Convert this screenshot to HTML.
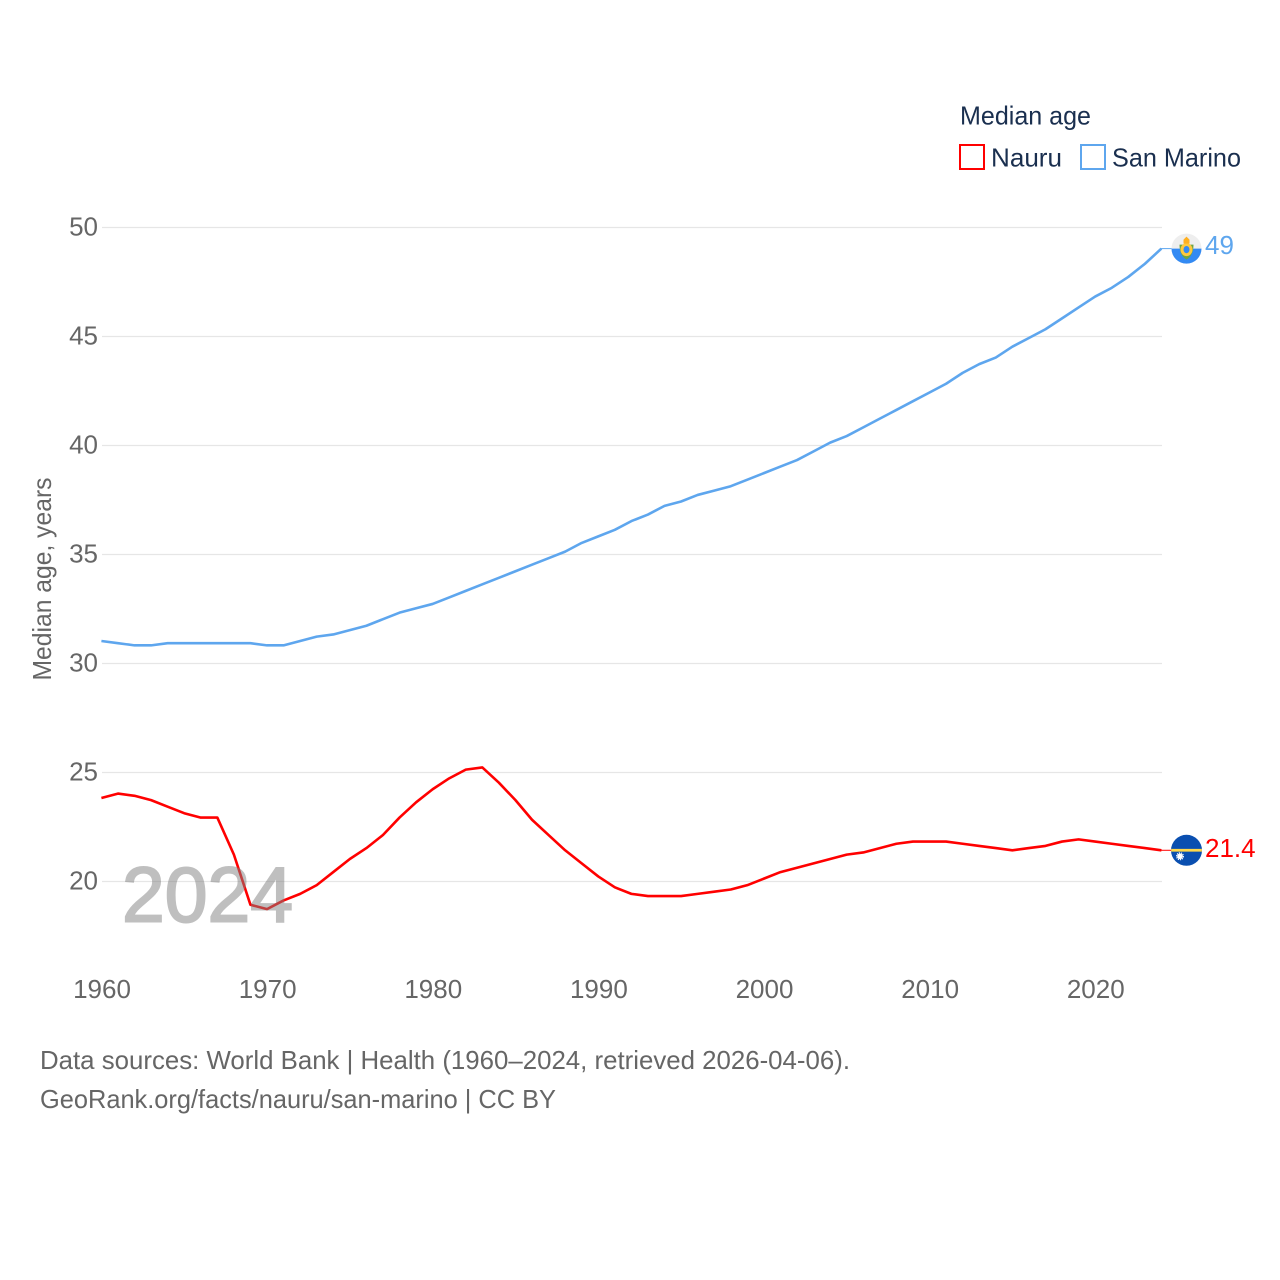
<!DOCTYPE html>
<html lang="en">
<head>
<meta charset="utf-8">
<title>Median age: Nauru and San Marino</title>
<style>
html,body{margin:0;padding:0;background:#fff;width:1280px;height:1280px;overflow:hidden}
svg{display:block;font-family:"Liberation Sans",sans-serif}
.tick{fill:#666;font-size:26px}
.foot{fill:#666;font-size:26px}
.leg{fill:#1a2f4f;font-size:26px}
</style>
</head>
<body>
<svg id="chart" width="1280" height="1280" viewBox="0 0 1280 1280">
  <g id="grid"></g>
  <g id="yticks"></g>
  <g id="xticks"></g>
  <text class="tick" transform="translate(51,579) rotate(-90)" text-anchor="middle" font-size="25" textLength="203" lengthAdjust="spacingAndGlyphs">Median age, years</text>
  <g id="series"></g>
  <text x="122" y="921.5" font-size="78" fill="#808080" stroke="#808080" stroke-width="2" opacity="0.5" textLength="171" lengthAdjust="spacingAndGlyphs">2024</text>
  <g id="ends"></g>

  <text class="leg" x="960" y="124.5" textLength="131" lengthAdjust="spacingAndGlyphs">Median age</text>
  <g>
    <rect x="960" y="145" width="24" height="24" fill="#fff" stroke="#ff0000" stroke-width="2"/>
    <text class="leg" x="991" y="166.5" textLength="71" lengthAdjust="spacingAndGlyphs">Nauru</text>
  </g>
  <g>
    <rect x="1081" y="145" width="24" height="24" fill="#fff" stroke="#5ea6ee" stroke-width="2"/>
    <text class="leg" x="1112" y="166.5" textLength="129" lengthAdjust="spacingAndGlyphs">San Marino</text>
  </g>

  <text class="foot" x="40" y="1069" textLength="810" lengthAdjust="spacingAndGlyphs">Data sources: World Bank | Health (1960–2024, retrieved 2026-04-06).</text>
  <text class="foot" x="40" y="1108" textLength="516" lengthAdjust="spacingAndGlyphs">GeoRank.org/facts/nauru/san-marino | CC BY</text>
</svg>
<script>
const years = [1960,1961,1962,1963,1964,1965,1966,1967,1968,1969,1970,1971,1972,1973,1974,1975,1976,1977,1978,1979,1980,1981,1982,1983,1984,1985,1986,1987,1988,1989,1990,1991,1992,1993,1994,1995,1996,1997,1998,1999,2000,2001,2002,2003,2004,2005,2006,2007,2008,2009,2010,2011,2012,2013,2014,2015,2016,2017,2018,2019,2020,2021,2022,2023,2024];
const nauruValues = [23.8,24.0,23.9,23.7,23.4,23.1,22.9,22.9,21.2,18.9,18.7,19.1,19.4,19.8,20.4,21.0,21.5,22.1,22.9,23.6,24.2,24.7,25.1,25.2,24.5,23.7,22.8,22.1,21.4,20.8,20.2,19.7,19.4,19.3,19.3,19.3,19.4,19.5,19.6,19.8,20.1,20.4,20.6,20.8,21.0,21.2,21.3,21.5,21.7,21.8,21.8,21.8,21.7,21.6,21.5,21.4,21.5,21.6,21.8,21.9,21.8,21.7,21.6,21.5,21.4];
const sanMarinoValues = [31.0,30.9,30.8,30.8,30.9,30.9,30.9,30.9,30.9,30.9,30.8,30.8,31.0,31.2,31.3,31.5,31.7,32.0,32.3,32.5,32.7,33.0,33.3,33.6,33.9,34.2,34.5,34.8,35.1,35.5,35.8,36.1,36.5,36.8,37.2,37.4,37.7,37.9,38.1,38.4,38.7,39.0,39.3,39.7,40.1,40.4,40.8,41.2,41.6,42.0,42.4,42.8,43.3,43.7,44.0,44.5,44.9,45.3,45.8,46.3,46.8,47.2,47.7,48.3,49.0];
const yTickValues = [20,25,30,35,40,45,50];
const xTickValues = [1960,1970,1980,1990,2000,2010,2020];

const NS = 'http://www.w3.org/2000/svg';
const xScale = function (yr) { return 102 + (yr - 1960) * (1162 - 102) / 64; };
const yScale = function (v) { return 881.5 - (v - 20) * (881.5 - 227.5) / 30; };
const make = function (tag, parent) {
  const e = document.createElementNS(NS, tag);
  parent.appendChild(e);
  return e;
};
const gridG = document.getElementById('grid');
const yG = document.getElementById('yticks');
const xG = document.getElementById('xticks');
const seriesG = document.getElementById('series');
const endsG = document.getElementById('ends');

yTickValues.forEach(function (v) {
  const ln = make('line', gridG);
  
  
  ln.setAttribute('x1', 102);
  ln.setAttribute('x2', 1162);
  ln.setAttribute('y1', yScale(v));
  ln.setAttribute('y2', yScale(v));
  ln.setAttribute('stroke', '#e6e6e6');
  ln.setAttribute('stroke-width', '1.3');
  const t = make('text', yG);
  
  
  t.setAttribute('class', 'tick');
  t.setAttribute('x', 98);
  t.setAttribute('y', yScale(v) + 8);
  t.setAttribute('text-anchor', 'end');
  t.textContent = v;
});

xTickValues.forEach(function (yr) {
  const t = make('text', xG);
  
  
  t.setAttribute('class', 'tick');
  t.setAttribute('x', xScale(yr));
  t.setAttribute('y', 998);
  t.setAttribute('text-anchor', 'middle');
  t.textContent = yr;
});

const linePoints = function (vals) {
  return vals.map(function (v, i) { return (xScale(years[i]) - 0.6).toFixed(2) + ',' + (yScale(v) - 0.7).toFixed(2); }).join(' ');
};

const nauruLine = make('polyline', seriesG);


nauruLine.setAttribute('points', linePoints(nauruValues));
nauruLine.setAttribute('fill', 'none');
nauruLine.setAttribute('stroke', '#ff0000');
nauruLine.setAttribute('stroke-width', '2.6');
nauruLine.setAttribute('stroke-linejoin', 'round');

const sanMarinoLine = make('polyline', seriesG);


sanMarinoLine.setAttribute('points', linePoints(sanMarinoValues));
sanMarinoLine.setAttribute('fill', 'none');
sanMarinoLine.setAttribute('stroke', '#5ea6ee');
sanMarinoLine.setAttribute('stroke-width', '2.6');
sanMarinoLine.setAttribute('stroke-linejoin', 'round');

/* End-of-line leader, flag and value label follow the last data value */
const nauruEndY = yScale(nauruValues[nauruValues.length - 1]) - 0.7;
const sanMarinoEndY = yScale(sanMarinoValues[sanMarinoValues.length - 1]) - 0.7;

const nauruLeader = make('line', endsG);


nauruLeader.setAttribute('x1', 1161);
nauruLeader.setAttribute('x2', 1172);
nauruLeader.setAttribute('y1', nauruEndY);
nauruLeader.setAttribute('y2', nauruEndY);
nauruLeader.setAttribute('stroke', '#ff0000');
nauruLeader.setAttribute('stroke-width', '1');

const sanMarinoLeader = make('line', endsG);


sanMarinoLeader.setAttribute('x1', 1161);
sanMarinoLeader.setAttribute('x2', 1172);
sanMarinoLeader.setAttribute('y1', sanMarinoEndY);
sanMarinoLeader.setAttribute('y2', sanMarinoEndY);
sanMarinoLeader.setAttribute('stroke', '#5ea6ee');
sanMarinoLeader.setAttribute('stroke-width', '1');

const nauruFlag = make('g', endsG);


nauruFlag.setAttribute('transform', 'translate(1186.5,' + nauruEndY + ')');
nauruFlag.innerHTML =
  '<circle r="15.5" fill="#0a4fb0"/>' +
  '<path d="M-15.4 -1.4 H15.4 V1.4 H-15.4 Z" fill="#ffd84a"/>' +
  '<circle cx="-6.5" cy="6" r="2.8" fill="#fff"/>' +
  '<circle cx="-6.5" cy="6" r="3.4" fill="none" stroke="#fff" stroke-width="1.2" stroke-dasharray="1.2 0.9"/>';

const sanMarinoFlag = make('g', endsG);


sanMarinoFlag.setAttribute('transform', 'translate(1186.5,' + sanMarinoEndY + ')');
sanMarinoFlag.innerHTML =
  '<circle r="15" fill="#eeeeee"/>' +
  '<path d="M-15 0 H15 A15 15 0 0 1 -15 0 Z" fill="#338af3"/>' +
  '<path d="M-7 -4 Q-7 7 0 11 Q7 7 7 -4 Z" fill="#6da544"/>' +
  '<ellipse cy="1" rx="6" ry="6.5" fill="#ffc83d"/>' +
  '<ellipse cy="1" rx="3" ry="3.6" fill="#338af3"/>' +
  '<path d="M-3 -5 L-3 -9 L0 -12 L3 -9 L3 -5 Z" fill="#ffb020"/>';

const nauruValueLabel = make('text', endsG);


nauruValueLabel.setAttribute('x', 1205);
nauruValueLabel.setAttribute('y', nauruEndY + 6.5);
nauruValueLabel.setAttribute('font-size', '26');
nauruValueLabel.setAttribute('fill', '#ff0000');
nauruValueLabel.textContent = nauruValues[nauruValues.length - 1];

const sanMarinoValueLabel = make('text', endsG);


sanMarinoValueLabel.setAttribute('x', 1205);
sanMarinoValueLabel.setAttribute('y', sanMarinoEndY + 5.5);
sanMarinoValueLabel.setAttribute('font-size', '26');
sanMarinoValueLabel.setAttribute('fill', '#5ea6ee');
sanMarinoValueLabel.textContent = sanMarinoValues[sanMarinoValues.length - 1];
</script>
</body>
</html>
